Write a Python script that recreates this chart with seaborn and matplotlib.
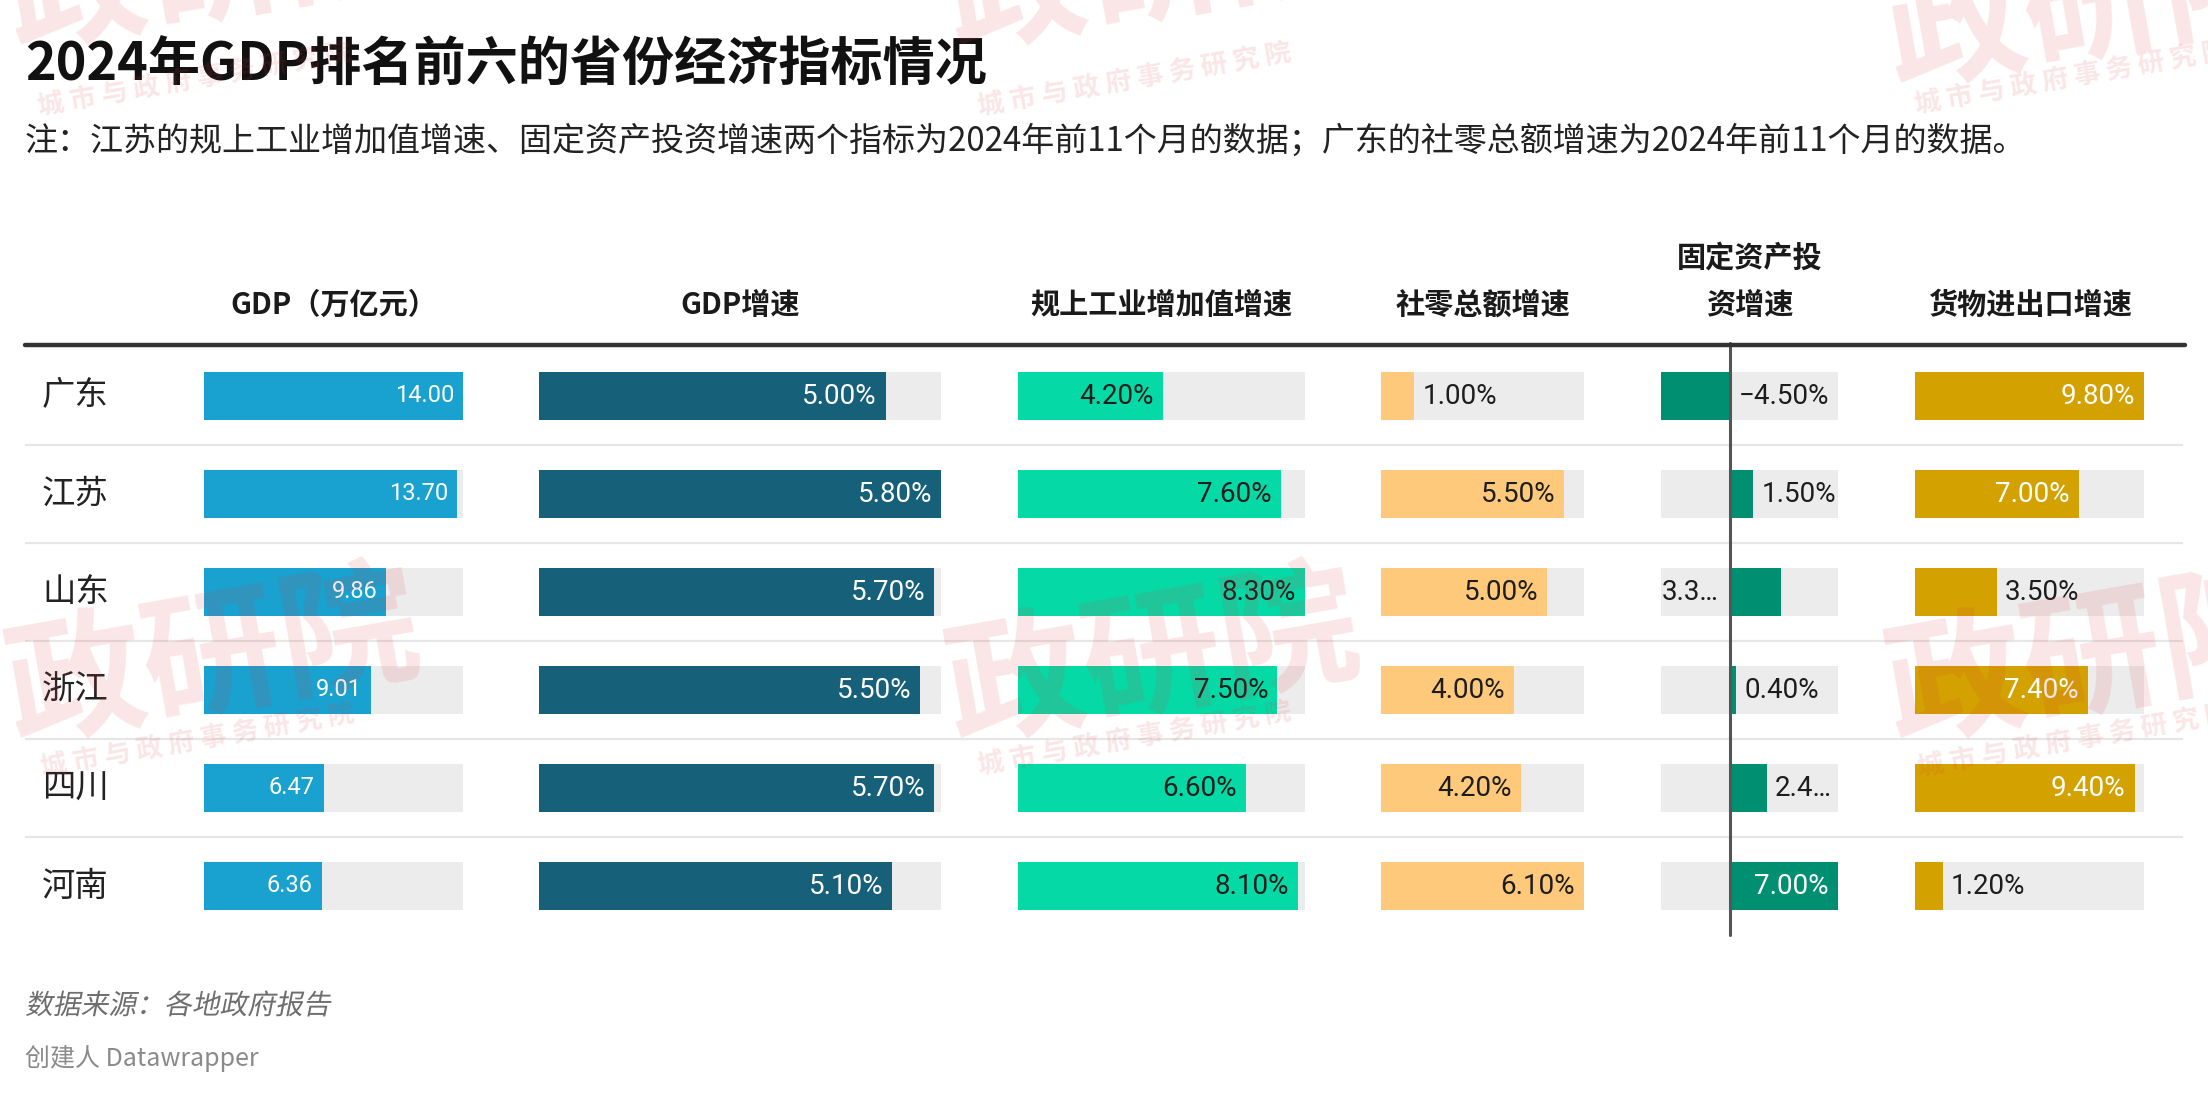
import numpy as np
import pandas as pd
import seaborn as sns
import matplotlib
matplotlib.use("Agg")
import matplotlib.pyplot as plt
from matplotlib.transforms import blended_transform_factory, offset_copy, Affine2D
from matplotlib.patheffects import AbstractPathEffect
from matplotlib.lines import Line2D

# ---------------- data ----------------
provinces = ["广东", "江苏", "山东", "浙江", "四川", "河南"]
gdp = [14.00, 13.70, 9.86, 9.01, 6.47, 6.36]
gdp_growth = [5.00, 5.80, 5.70, 5.50, 5.70, 5.10]
industry_growth = [4.20, 7.60, 8.30, 7.50, 6.60, 8.10]
retail_growth = [1.00, 5.50, 5.00, 4.00, 4.20, 6.10]
investment_growth = [-4.50, 1.50, 3.30, 0.40, 2.40, 7.00]
trade_growth = [9.80, 7.00, 3.50, 7.40, 9.40, 1.20]
headers = ["GDP（万亿元）", "GDP增速", "规上工业增加值增速", "社零总额增速",
           ["固定资产投", "资增速"], "货物进出口增速"]
title = "2024年GDP排名前六的省份经济指标情况"
subtitle = ("注：江苏的规上工业增加值增速、固定资产投资增速两个指标为2024年前11个月的数据；"
            "广东的社零总额增速为2024年前11个月的数据。")
source = "数据来源：各地政府报告"
credit = "创建人 Datawrapper"
watermark_big = "政研院"
watermark_small = "城 市 与 政 府 事 务 研 究 院"

# ---------------- style ----------------
sns.set_style("white")
CJK = ["Noto Sans CJK SC", "DejaVu Sans"]
NUM = ["Roboto", "DejaVu Sans"]
plt.rcParams["font.family"] = CJK

W, H = 2208, 1099
def fx(px):
    return px / W
def fy(py):
    return 1 - py / H

ROW_TOP, ROW_BOTTOM = 347, 935
GREY = "#ececec"
DARK = "#1d1d1d"

columns = [
    dict(vals=gdp, x0=204, x1=463, lo=0, hi=14.0, color="#19a1cf", inner="white", fmt="{:.2f}", fs=17),
    dict(vals=gdp_growth, x0=539, x1=941, lo=0, hi=5.8, color="#16607a", inner="white", fmt="{:.2f}%", fs=20),
    dict(vals=industry_growth, x0=1018, x1=1305, lo=0, hi=8.3, color="#05daa6", inner=DARK, fmt="{:.2f}%", fs=20),
    dict(vals=retail_growth, x0=1381, x1=1584, lo=0, hi=6.1, color="#fec97a", inner=DARK, fmt="{:.2f}%", fs=20),
    dict(vals=investment_growth, x0=1661, x1=1838, lo=-4.5, hi=7.0, color="#008f71", inner="white", fmt="{:.2f}%", fs=20),
    dict(vals=trade_growth, x0=1915, x1=2144, lo=0, hi=9.8, color="#d3a100", inner="white", fmt="{:.2f}%", fs=20),
]
# placement of labels in the investment column (Datawrapper layout)
inv_place = ["zero_right", "right", "left_trunc", "right", "right_trunc", "inside"]


class Slant(AbstractPathEffect):
    def __init__(self, shear=0.2):
        super().__init__()
        self._t = Affine2D(np.array([[1, shear, 0], [0, 1, 0], [0, 0, 1]], float))

    def draw_path(self, renderer, gc, tpath, affine, rgbFace=None):
        renderer.draw_path(gc, tpath, self._t + affine, rgbFace)


def fmt_val(f, v):
    s = f.format(abs(v))
    return ("−" + s) if v < 0 else s


fig = plt.figure(figsize=(22.08, 10.99), dpi=100)
fig.patch.set_facecolor("white")

# background axis for separators / row labels
ax_bg = fig.add_axes([fx(25), fy(ROW_BOTTOM), (2183 - 25) / W, (ROW_BOTTOM - ROW_TOP) / H])
ax_bg.set_xlim(0, 1)
ax_bg.set_ylim(len(provinces) - 0.5, -0.5)
ax_bg.set_axis_off()
for i in range(len(provinces) - 1):
    ax_bg.axhline(i + 0.5, color="#e6e6e6", lw=1.6, zorder=0)
for i, p in enumerate(provinces):
    ax_bg.text((42 - 25) / (2183 - 25), i, p, ha="left", va="center",
               fontsize=24, color="#222222", family=CJK)

# header rule
fig.add_artist(Line2D([fx(25), fx(2185)], [fy(345), fy(345)], color="#333333", lw=3.2))

for ci, col in enumerate(columns):
    ax = fig.add_axes([fx(col["x0"]), fy(ROW_BOTTOM), (col["x1"] - col["x0"]) / W,
                       (ROW_BOTTOM - ROW_TOP) / H])
    ax.patch.set_alpha(0)
    df = pd.DataFrame({"prov": provinces, "val": col["vals"]})
    # grey background tracks
    sns.barplot(x=[col["hi"]] * len(provinces), y=provinces, orient="h", color=GREY,
                saturation=1, width=0.49, linewidth=0, ax=ax)
    if col["lo"] < 0:
        sns.barplot(x=[col["lo"]] * len(provinces), y=provinces, orient="h", color=GREY,
                    saturation=1, width=0.49, linewidth=0, ax=ax)
    sns.barplot(data=df, x="val", y="prov", orient="h", color=col["color"],
                saturation=1, width=0.49, linewidth=0, ax=ax)
    ax.set_xlim(col["lo"], col["hi"])
    ax.set_ylim(len(provinces) - 0.5, -0.5)
    ax.set_axis_off()

    px_per_unit = (col["x1"] - col["x0"]) / (col["hi"] - col["lo"])
    t_in = offset_copy(ax.transData, fig=fig, x=-9, y=0, units="dots")
    t_out = offset_copy(ax.transData, fig=fig, x=8, y=0, units="dots")
    for i, v in enumerate(col["vals"]):
        s = fmt_val(col["fmt"], v)
        if ci == 4:
            place = inv_place[i]
            if place == "inside":
                ax.text(v, i, s, ha="right", va="center", fontsize=col["fs"],
                        color=col["inner"], transform=t_in, family=NUM)
            elif place == "zero_right":
                ax.text(0, i, s, ha="left", va="center", fontsize=col["fs"],
                        color=DARK, transform=t_out, family=NUM)
            elif place == "right":
                ax.text(v, i, s, ha="left", va="center", fontsize=col["fs"],
                        color=DARK, transform=t_out, family=NUM)
            elif place == "right_trunc":
                ax.text(v, i, s[:3] + "…", ha="left", va="center", fontsize=col["fs"],
                        color=DARK, transform=t_out, family=NUM)
            else:
                ax.text(col["lo"], i, s[:3] + "…", ha="left", va="center", fontsize=col["fs"],
                        color=DARK, family=NUM,
                        transform=offset_copy(ax.transData, fig=fig, x=1, y=0, units="dots"))
        else:
            if v * px_per_unit >= 95:
                ax.text(v, i, s, ha="right", va="center", fontsize=col["fs"],
                        color=col["inner"], transform=t_in, family=NUM)
            else:
                ax.text(v, i, s, ha="left", va="center", fontsize=col["fs"],
                        color=DARK, transform=t_out, family=NUM)

    # header
    hdr_t = blended_transform_factory(ax.transAxes, fig.transFigure)
    h = headers[ci]
    if isinstance(h, list):
        ax.text(0.5, fy(258), h[0], transform=hdr_t, ha="center", va="center",
                fontsize=21, fontweight="bold", color="#1a1a1a", family=CJK)
        ax.text(0.5, fy(305), h[1], transform=hdr_t, ha="center", va="center",
                fontsize=21, fontweight="bold", color="#1a1a1a", family=CJK)
    else:
        ax.text(0.5, fy(305), h, transform=hdr_t, ha="center", va="center",
                fontsize=21, fontweight="bold", color="#1a1a1a", family=CJK)

    if col["lo"] < 0:
        ax.axvline(0, ymin=0.0, ymax=1 + 4 / (ROW_BOTTOM - ROW_TOP), color="#555555",
                   lw=2.2, clip_on=False, zorder=5)

# titles
fig.text(fx(25), fy(65), title, ha="left", va="center", fontsize=37.5,
         fontweight="bold", color="#111111", family=CJK)
fig.text(fx(25), fy(141), subtitle, ha="left", va="center", fontsize=23.8,
         color="#222222", family=CJK)

# footer
fig.text(fx(25), fy(1006), source, ha="left", va="center", fontsize=20,
         color="#6e6e6e", family=CJK, path_effects=[Slant(0.2)])
fig.text(fx(25), fy(1059), credit, ha="left", va="center", fontsize=18,
         color="#8a8a8a", family=CJK)

# watermark (big mark baseline, small line baseline)
wm_tiles = [((15, 45), (40, 115)), ((955, 45), (980, 115)), ((1895, 83), (1917, 113)),
            ((15, 738), (43, 776)), ((955, 738), (980, 774)), ((1895, 738), (1920, 776))]
for (bx, by), (sx, sy) in wm_tiles:
    fig.text(fx(bx), fy(by), watermark_big, ha="left", va="baseline", fontsize=100,
             fontweight="heavy", color="#e03a45", alpha=0.13, rotation=10,
             rotation_mode="anchor", family=CJK, zorder=10)
    fig.text(fx(sx), fy(sy), watermark_small, ha="left", va="baseline",
             fontsize=19, fontweight="bold", color="#e03a45", alpha=0.13, rotation=10,
             rotation_mode="anchor", family=CJK, zorder=10)

fig.savefig("out.png", dpi=100, facecolor="white")
